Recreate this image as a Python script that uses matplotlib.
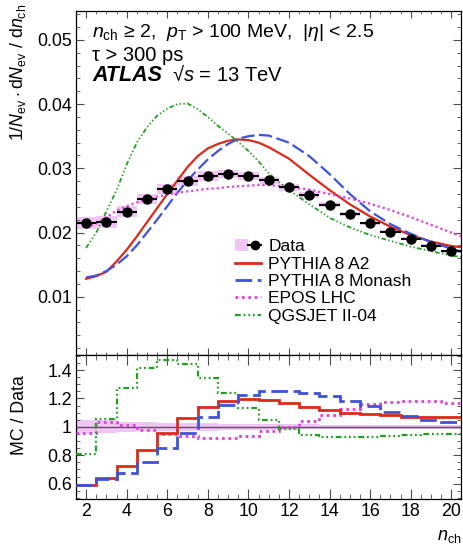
import matplotlib
matplotlib.use('Agg')
import matplotlib.pyplot as plt
from matplotlib.ticker import MultipleLocator, FuncFormatter
from matplotlib.lines import Line2D
from matplotlib.patches import Patch
from matplotlib.legend_handler import HandlerTuple
import numpy as np

plt.rcParams['font.family'] = ['Liberation Sans', 'DejaVu Sans']
plt.rcParams['mathtext.fontset'] = 'custom'
plt.rcParams['mathtext.rm'] = 'Liberation Sans'
plt.rcParams['mathtext.it'] = 'Liberation Sans:italic'
plt.rcParams['mathtext.bf'] = 'Liberation Sans:bold'

# ---------------- data ----------------
n_bins = [2, 3, 4, 5, 6, 7, 8, 9, 10, 11, 12, 13, 14, 15, 16, 17, 18, 19, 20]
data = [0.02149, 0.02164, 0.02327, 0.02522, 0.02678, 0.02805, 0.02884, 0.02906,
        0.02880, 0.02811, 0.02707, 0.02578, 0.02433, 0.02291, 0.02143, 0.02013,
        0.01902, 0.01795, 0.01705]
data_rel_err = [0.045, 0.045, 0.035, 0.032, 0.030, 0.028, 0.026, 0.022, 0.020, 0.020,
                0.020, 0.018, 0.016, 0.014, 0.012, 0.012, 0.012, 0.012, 0.012]

mc_n = [2, 2.5, 3, 3.5, 4, 4.5, 5, 5.5, 6, 6.5, 7, 7.5, 8, 8.5, 9, 9.5, 10, 10.5, 11,
        12, 13, 14, 15, 16, 17, 18, 19, 20, 20.5]
pythia_a2 = [0.0128, 0.0132, 0.0139, 0.0155, 0.0173, 0.0194, 0.0216, 0.0238, 0.0260,
             0.0281, 0.0302, 0.0319, 0.0331, 0.0338, 0.0343, 0.0345, 0.0344, 0.0340,
             0.0333, 0.0315, 0.0290, 0.0266, 0.0244, 0.0225, 0.0209, 0.0196, 0.0186,
             0.0179, 0.0177]
pythia_monash = [0.0130, 0.0133, 0.0140, 0.0150, 0.0163, 0.0180, 0.0200, 0.0220, 0.0241,
                 0.0262, 0.0281, 0.0298, 0.0314, 0.0327, 0.0338, 0.0346, 0.0350, 0.0352,
                 0.0351, 0.0340, 0.0319, 0.0291, 0.0260, 0.0233, 0.0213, 0.0198, 0.0185,
                 0.0175, 0.0170]
epos_lhc = [0.0208, 0.0214, 0.0224, 0.0234, 0.0241, 0.0247, 0.0251, 0.0256, 0.0259,
            0.0262, 0.0264, 0.0266, 0.0268, 0.0269, 0.0271, 0.0272, 0.0273, 0.0274,
            0.0274, 0.0271, 0.0267, 0.0260, 0.0253, 0.0245, 0.0235, 0.0224, 0.0212,
            0.0200, 0.0194]
qgsjet = [0.0176, 0.0200, 0.0233, 0.0266, 0.0306, 0.0340, 0.0364, 0.0382, 0.0393,
          0.0400, 0.0401, 0.0392, 0.0380, 0.0366, 0.0354, 0.0341, 0.0327, 0.0311,
          0.0292, 0.0266, 0.0244, 0.0223, 0.0208, 0.0196, 0.0187, 0.0178, 0.0171,
          0.0164, 0.0162]

ratio_a2 = [0.590, 0.640, 0.725, 0.835, 0.958, 1.064, 1.141, 1.184, 1.195, 1.188,
            1.165, 1.141, 1.122, 1.101, 1.089, 1.082, 1.073, 1.071, 1.068]
ratio_monash = [0.593, 0.630, 0.678, 0.753, 0.852, 0.960, 1.071, 1.153, 1.222, 1.252,
                1.254, 1.240, 1.216, 1.181, 1.144, 1.108, 1.075, 1.049, 1.033]
ratio_epos = [0.960, 1.031, 1.012, 0.981, 0.953, 0.934, 0.922, 0.925, 0.936, 0.969,
              1.000, 1.040, 1.082, 1.125, 1.158, 1.176, 1.184, 1.184, 1.169]
ratio_qgsjet = [0.812, 1.059, 1.271, 1.416, 1.471, 1.440, 1.348, 1.240, 1.134, 1.047,
                0.988, 0.946, 0.929, 0.927, 0.932, 0.936, 0.941, 0.948, 0.953]

labels = ['Data', 'PYTHIA 8 A2', 'PYTHIA 8 Monash', 'EPOS LHC', 'QGSJET II-04']

# ---------------- styles ----------------
c_band = '#f2c6f4'
c_red = '#dc2a1a'
c_blue = '#3f52dc'
c_mag = '#e040e0'
c_green = '#20a020'
dash_blue = (6, 2)
dash_mag = (1.0, 1.3)
dash_green = (2.6, 1.3, 0.8, 1.3, 0.8, 1.3, 0.8, 1.3)

fig = plt.figure(figsize=(4.63, 5.45), dpi=100)
ax = fig.add_axes([0.1641, 0.3495, 0.8326, 0.6303])
axr = fig.add_axes([0.1641, 0.0840, 0.8326, 0.2655], sharex=ax)

nb = np.array(n_bins, dtype=float)
d = np.array(data)
e = np.array(data_rel_err)
edges = np.append(nb - 0.5, nb[-1] + 0.5)

# top panel
ax.bar(nb, 2 * d * e, bottom=d * (1 - e), width=1.0, color=c_band, lw=0, zorder=1)
ax.plot(mc_n, pythia_a2, color=c_red, lw=1.6, zorder=3)
ax.plot(mc_n, pythia_monash, color=c_blue, lw=1.6, dashes=dash_blue, zorder=3)
ax.plot(mc_n, epos_lhc, color=c_mag, lw=1.6, dashes=dash_mag, zorder=3)
ax.plot(mc_n, qgsjet, color=c_green, lw=1.3, dashes=dash_green, zorder=3)
ax.hlines(d, nb - 0.5, nb + 0.5, color='k', lw=1.5, zorder=4)
ax.plot(nb, d, 'o', color='k', ms=6.5, zorder=5)

ax.set_xlim(1.5, 20.5)
ax.set_ylim(0.001, 0.0545)

# ratio panel
r_lo = 1 - e
axr.bar(nb, 2 * e, bottom=r_lo, width=1.0, color=c_band, lw=0, zorder=1)
axr.axhline(1.0, color='#6a4a6a', lw=1.0, zorder=2)
axr.stairs(ratio_a2, edges, color=c_red, lw=2.0, baseline=None, zorder=4)
axr.stairs(ratio_monash, edges, color=c_blue, lw=2.0, baseline=None, zorder=4,
           linestyle=(0, dash_blue))
axr.stairs(ratio_epos, edges, color=c_mag, lw=2.0, baseline=None, zorder=3,
           linestyle=(0, dash_mag))
axr.stairs(ratio_qgsjet, edges, color=c_green, lw=1.6, baseline=None, zorder=3,
           linestyle=(0, dash_green))
axr.set_ylim(0.49, 1.51)

# ticks
for a in (ax, axr):
    a.tick_params(which='both', direction='in', top=True, right=True,
                  color='0.3', labelsize=12.8, pad=3)
    a.xaxis.set_major_locator(MultipleLocator(2))
    a.xaxis.set_minor_locator(MultipleLocator(0.5))
    for s in a.spines.values():
        s.set_linewidth(0.9)
ax.tick_params(axis='x', which='major', length=5)
ax.tick_params(axis='x', which='minor', length=2.5)
ax.tick_params(axis='y', which='major', length=6)
ax.tick_params(axis='y', which='minor', length=3)
axr.tick_params(axis='x', which='major', length=7)
axr.tick_params(axis='x', which='minor', length=3.5)
axr.tick_params(axis='y', which='major', length=6)
axr.tick_params(axis='y', which='minor', length=3)
ax.tick_params(axis='x', labelbottom=False)
ax.yaxis.set_major_locator(MultipleLocator(0.01))
ax.yaxis.set_minor_locator(MultipleLocator(0.002))
axr.yaxis.set_major_locator(MultipleLocator(0.2))
axr.yaxis.set_minor_locator(MultipleLocator(0.05))
fmt = FuncFormatter(lambda v, p: f"{v:g}")
ax.yaxis.set_major_formatter(fmt)
axr.yaxis.set_major_formatter(fmt)
axr.xaxis.set_major_formatter(fmt)

# labels
ax.set_ylabel(r'$1/N_{\rm ev}\cdot{\rm d}N_{\rm ev}\ /\ {\rm d}n_{\rm ch}$',
              fontsize=12.8, loc='top')
ax.yaxis.set_label_coords(-0.125, 1.022)
axr.set_ylabel('MC / Data', fontsize=12.8)
axr.yaxis.set_label_coords(-0.125, 0.58)
axr.set_xlabel(r'$n_{\rm ch}$', fontsize=13, loc='right')
axr.xaxis.set_label_coords(1.0, -0.20)

# header text
ax.text(0.0415, 0.9234, r'$n_{\rm ch}$ ≥ 2,  $p_{\rm T}$ > 100 MeV,  |$\eta$| < 2.5',
        transform=ax.transAxes, fontsize=14, va='baseline', ha='left')
ax.text(0.0415, 0.8553, 'τ > 300 ps', transform=ax.transAxes, fontsize=14.5,
        va='baseline', ha='left')
ax.text(0.0415, 0.7962, 'ATLAS', transform=ax.transAxes, fontsize=15.5,
        fontweight='bold', fontstyle='italic', va='baseline', ha='left')
ax.text(0.249, 0.7962, r'√$s$ = 13 TeV', transform=ax.transAxes, fontsize=14.5,
        va='baseline', ha='left')

# legend
h_data = (Patch(facecolor=c_band, edgecolor='none'),
          Line2D([], [], color='k', lw=1.5, marker='o', ms=6))
h_a2 = Line2D([], [], color=c_red, lw=2.0)
h_mon = Line2D([], [], color=c_blue, lw=2.0, dashes=dash_blue)
h_epos = Line2D([], [], color=c_mag, lw=2.0, dashes=dash_mag)
h_qgs = Line2D([], [], color=c_green, lw=1.6, dashes=dash_green)
ax.legend([h_data, h_a2, h_mon, h_epos, h_qgs], labels,
          handler_map={tuple: HandlerTuple(ndivide=None)},
          loc='upper left', bbox_to_anchor=(0.4125, 0.336), frameon=False,
          fontsize=12.5, borderpad=0, borderaxespad=0, handlelength=1.5,
          handletextpad=0.42, labelspacing=0.13)

fig.savefig('out.png', dpi=100)
